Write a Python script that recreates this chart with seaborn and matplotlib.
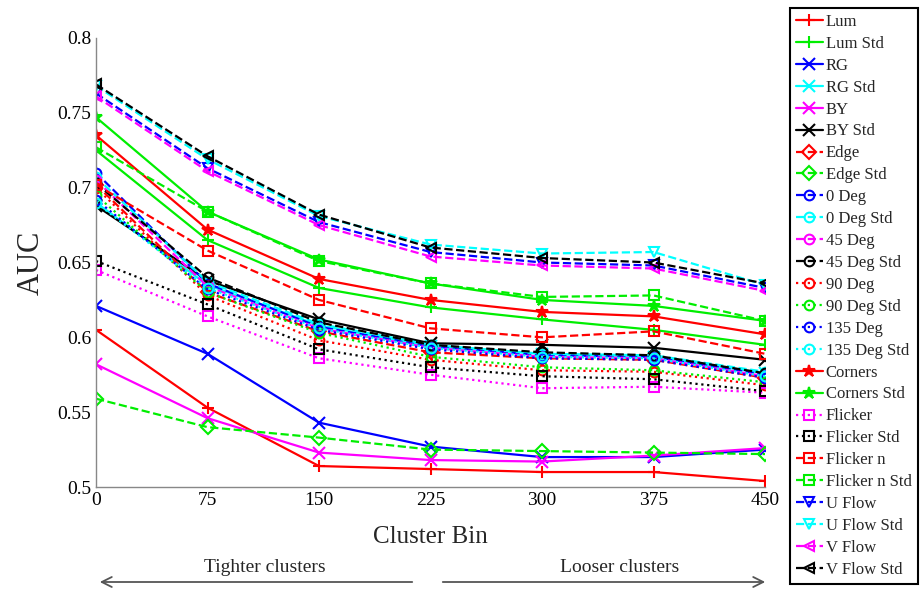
import numpy as np
import pandas as pd
import matplotlib
matplotlib.use("Agg")
import matplotlib.pyplot as plt
import seaborn as sns

# Eixo x (bins de cluster)
cluster_bin = [0, 75, 150, 225, 300, 375, 450]

# Valores de AUC
lum = [0.605, 0.553, 0.514, 0.512, 0.510, 0.510, 0.504]
lum_std = [0.725, 0.665, 0.633, 0.620, 0.612, 0.605, 0.595]
rg = [0.621, 0.589, 0.543, 0.527, 0.520, 0.520, 0.525]
rg_std = [0.690, 0.635, 0.608, 0.594, 0.589, 0.587, 0.576]
by = [0.582, 0.546, 0.523, 0.518, 0.517, 0.521, 0.526]
by_std = [0.688, 0.638, 0.612, 0.596, 0.595, 0.593, 0.585]
edge = [0.702, 0.630, 0.604, 0.590, 0.586, 0.585, 0.573]
edge_std = [0.559, 0.540, 0.533, 0.525, 0.524, 0.523, 0.522]
deg0 = [0.710, 0.636, 0.607, 0.594, 0.588, 0.587, 0.575]
deg0_std = [0.707, 0.637, 0.609, 0.595, 0.589, 0.588, 0.577]
deg45 = [0.705, 0.634, 0.606, 0.593, 0.587, 0.586, 0.574]
deg45_std = [0.703, 0.640, 0.610, 0.595, 0.590, 0.588, 0.576]
deg90 = [0.700, 0.628, 0.598, 0.585, 0.578, 0.577, 0.568]
deg90_std = [0.695, 0.630, 0.603, 0.587, 0.580, 0.578, 0.570]
deg135 = [0.692, 0.632, 0.605, 0.592, 0.586, 0.585, 0.573]
deg135_std = [0.690, 0.633, 0.606, 0.593, 0.587, 0.586, 0.574]
corners = [0.735, 0.672, 0.639, 0.625, 0.617, 0.614, 0.602]
corners_std = [0.747, 0.684, 0.652, 0.636, 0.625, 0.621, 0.611]
flicker = [0.645, 0.614, 0.586, 0.575, 0.566, 0.567, 0.563]
flicker_std = [0.651, 0.622, 0.592, 0.580, 0.574, 0.572, 0.564]
flicker_n = [0.702, 0.658, 0.625, 0.606, 0.600, 0.604, 0.589]
flicker_n_std = [0.727, 0.684, 0.651, 0.636, 0.627, 0.628, 0.611]
u_flow = [0.763, 0.713, 0.677, 0.657, 0.650, 0.648, 0.633]
u_flow_std = [0.768, 0.719, 0.681, 0.662, 0.656, 0.657, 0.635]
v_flow = [0.761, 0.711, 0.675, 0.654, 0.648, 0.646, 0.631]
v_flow_std = [0.769, 0.721, 0.682, 0.660, 0.653, 0.650, 0.636]

nomes = ['Lum', 'Lum Std', 'RG', 'RG Std', 'BY', 'BY Std',
         'Edge', 'Edge Std', '0 Deg', '0 Deg Std', '45 Deg', '45 Deg Std',
         '90 Deg', '90 Deg Std', '135 Deg', '135 Deg Std',
         'Corners', 'Corners Std', 'Flicker', 'Flicker Std',
         'Flicker n', 'Flicker n Std', 'U Flow', 'U Flow Std', 'V Flow', 'V Flow Std']
series = [lum, lum_std, rg, rg_std, by, by_std,
          edge, edge_std, deg0, deg0_std, deg45, deg45_std,
          deg90, deg90_std, deg135, deg135_std,
          corners, corners_std, flicker, flicker_std,
          flicker_n, flicker_n_std, u_flow, u_flow_std, v_flow, v_flow_std]

# Estilo de cada série (cor, marcador, linha)
R, G, B, C, M, K = '#ff0000', '#00ee00', '#0000ff', '#00ffff', '#ff00ff', '#000000'
cores = [R, G, B, C, M, K,
         R, G, B, C, M, K,
         R, G, B, C,
         R, G, M, K,
         R, G, B, C, M, K]
marcadores = ['+', '+', 'x', 'x', 'x', 'x',
              'D', 'D', 'o', 'o', 'o', 'o',
              'o', 'o', 'o', 'o',
              '*', '*', 's', 's',
              's', 's', 'v', 'v', '<', '<']
linhas = ['-'] * 6 + ['--'] * 6 + [':'] * 4 + ['-'] * 2 + [':'] * 2 + ['--'] * 2 + ['--'] * 4

sns.set_style("white")
plt.rcParams['font.family'] = ['Liberation Serif', 'DejaVu Serif']

fig = plt.figure(figsize=(9.24, 5.92), dpi=100)
ax = fig.add_axes([96 / 924, 1 - 487 / 592, (765 - 96) / 924, (487 - 38) / 592])

for nome, valores, cor, mk, ls in zip(nomes, series, cores, marcadores, linhas):
    df = pd.DataFrame({'bin': cluster_bin, 'auc': valores})
    preenchido = mk in ['+', 'x', '*']
    sns.lineplot(data=df, x='bin', y='auc', ax=ax, color=cor, marker=mk,
                 linestyle=ls, linewidth=1.6,
                 markersize=9 if mk in ['+', 'x', '*'] else 7,
                 markerfacecolor=cor if preenchido else 'none',
                 markeredgecolor=cor, markeredgewidth=1.5, label=nome)

ax.set_xlim(0, 450)
ax.set_ylim(0.5, 0.8)
ax.set_xticks(cluster_bin)
ax.set_yticks([0.5, 0.55, 0.6, 0.65, 0.7, 0.75, 0.8])
ax.set_yticklabels(['0.5', '0.55', '0.6', '0.65', '0.7', '0.75', '0.8'])
ax.tick_params(direction='in', length=5, colors='#777777', labelcolor='black',
               labelsize=14)
ax.set_xlabel('Cluster Bin', fontsize=18, labelpad=12)
ax.set_ylabel('AUC', fontsize=22, labelpad=8)
for lado in ['top', 'right']:
    ax.spines[lado].set_visible(False)
for lado in ['left', 'bottom']:
    ax.spines[lado].set_color('#888888')
    ax.spines[lado].set_linewidth(1.0)

leg = ax.legend(loc='upper left', bbox_to_anchor=(790 / 924, 1 - 8 / 592),
                bbox_transform=fig.transFigure, borderaxespad=0,
                fontsize=12, handlelength=1.6, handletextpad=0.2,
                labelspacing=0.355, borderpad=0.35, fancybox=False,
                framealpha=1, edgecolor='black')
leg.get_frame().set_linewidth(1.5)

# Setas de anotação abaixo do eixo
y_seta = 1 - 582 / 592
fig.add_artist(matplotlib.patches.FancyArrowPatch(
    (415 / 924, y_seta), (97 / 924, y_seta), transform=fig.transFigure,
    arrowstyle='->', mutation_scale=18, color='#555555', linewidth=1.3))
fig.add_artist(matplotlib.patches.FancyArrowPatch(
    (440 / 924, y_seta), (768 / 924, y_seta), transform=fig.transFigure,
    arrowstyle='->', mutation_scale=18, color='#555555', linewidth=1.3))
fig.text(265 / 924, 1 - 568 / 592, 'Tighter clusters', ha='center', va='center', fontsize=14)
fig.text(620 / 924, 1 - 568 / 592, 'Looser clusters', ha='center', va='center', fontsize=14)

fig.savefig('out.png', dpi=100)
